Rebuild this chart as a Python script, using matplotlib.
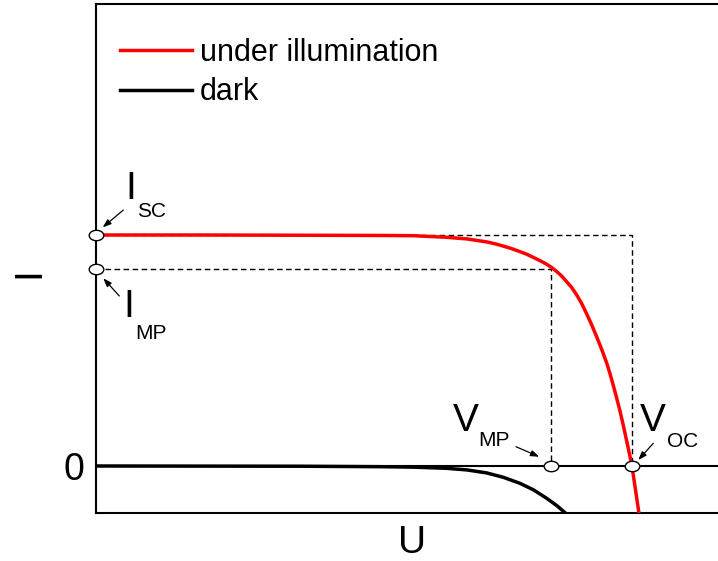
import numpy as np
import matplotlib.pyplot as plt
from matplotlib.path import Path
from matplotlib.lines import Line2D

plt.rcParams['font.family'] = ['Liberation Sans', 'DejaVu Sans']

# I-U kennlinie einer solarzelle (normiert: I_SC = 1, V_OC = 1)
u_light = [0.0, 0.194, 0.381, 0.530, 0.592, 0.654, 0.692, 0.729, 0.7445, 0.760,
           0.7755, 0.791, 0.8035, 0.816, 0.8285, 0.841, 0.8505, 0.860, 0.869, 0.878,
           0.8875, 0.897, 0.906, 0.915, 0.9245, 0.934, 0.9435, 0.953, 0.959, 0.965,
           0.9715, 0.978, 0.984, 0.990, 0.995, 1.000, 1.013]
i_light = [1.000, 1.000, 0.999, 0.998, 0.997, 0.990, 0.983, 0.970, 0.962, 0.952,
           0.941, 0.928, 0.917, 0.903, 0.889, 0.873, 0.859, 0.841, 0.822, 0.798,
           0.773, 0.740, 0.704, 0.661, 0.613, 0.560, 0.505, 0.445, 0.400, 0.350,
           0.294, 0.235, 0.174, 0.110, 0.056, 0.0, -0.2035]

u_dark = [0.0, 0.381, 0.530, 0.592, 0.654, 0.692, 0.729, 0.760, 0.791, 0.816,
          0.841, 0.860, 0.876]
i_dark = [0.0, -0.001, -0.003, -0.005, -0.010, -0.017, -0.030, -0.049, -0.075,
          -0.103, -0.140, -0.172, -0.204]

i_sc = 1.0
v_oc = 1.0
i_mp = 0.853
v_mp = 0.849

# ovaler marker
circ = Path.unit_circle()
oval = Path(circ.vertices * [1.4, 1.0], circ.codes)

fig = plt.figure(figsize=(7.18, 5.61), dpi=100)
ax = fig.add_axes([96 / 718, 48 / 561, 626 / 718, 509 / 561])
ax.set_xlim(0, 1.168)
ax.set_ylim(-0.2035, 2.0)

for s in ax.spines.values():
    s.set_linewidth(1.5)
ax.spines['right'].set_visible(False)

ax.axhline(0, color='black', lw=1.5, zorder=1)

# gestrichelte hilfslinien
ax.plot([0, v_oc, v_oc], [i_sc, i_sc, 0], color='black', lw=1, ls=(0, (4, 2.5)), zorder=2)
ax.plot([0, v_mp, v_mp], [i_mp, i_mp, 0], color='black', lw=1, ls=(0, (4, 2.5)), zorder=2)

ax.plot(u_light, i_light, color='#ff0000', lw=2.5, zorder=3)
ax.plot(u_dark, i_dark, color='black', lw=2.5, zorder=3)

ax.plot([0, 0, v_mp, v_oc], [i_sc, i_mp, 0, 0], ls='none', marker=oval, ms=10.5,
        mfc='white', mec='black', mew=1, zorder=5, clip_on=False)

big = 28
small = 15
ax.text(0.0549, 1.156, 'I', fontsize=big, va='baseline')
ax.text(0.0765, 1.078, 'SC', fontsize=small, va='baseline')
ax.text(0.0511, 0.645, 'I', fontsize=big, va='baseline')
ax.text(0.0735, 0.550, 'MP', fontsize=small, va='baseline')
ax.text(0.666, 0.1515, 'V', fontsize=big, va='baseline')
ax.text(0.7134, 0.0866, 'MP', fontsize=small, va='baseline')
ax.text(1.015, 0.1515, 'V', fontsize=big, va='baseline')
ax.text(1.0653, 0.0823, 'OC', fontsize=small, va='baseline')

arrow = dict(arrowstyle='-|>,head_length=0.5,head_width=0.18', color='black', lw=0.9,
             shrinkA=0, shrinkB=0)
ax.annotate('', xy=(0.0125, 1.033), xytext=(0.0509, 1.108), arrowprops=arrow)
ax.annotate('', xy=(0.0136, 0.8126), xytext=(0.0435, 0.736), arrowprops=arrow)
ax.annotate('', xy=(0.827, 0.040), xytext=(0.7836, 0.0835), arrowprops=arrow)
ax.annotate('', xy=(1.0118, 0.026), xytext=(1.0397, 0.098), arrowprops=arrow)

ax.set_xticks([])
ax.set_yticks([0])
ax.tick_params(axis='y', length=0, pad=8.5, labelsize=27)

ax.set_xlabel('U', fontsize=28, va='baseline')
ax.xaxis.set_label_coords((412 - 96) / 626, (513 - 553) / 509)
ax.set_ylabel('I', fontsize=28, va='baseline')
ax.yaxis.set_label_coords((39 - 96) / 626, (513 - 272.7) / 509)

handles = [Line2D([], [], color='#ff0000', lw=2.5), Line2D([], [], color='black', lw=2.5)]
ax.legend(handles, ['under illumination', 'dark'], loc='upper left',
          bbox_to_anchor=(0.0383, 0.934), borderaxespad=0, borderpad=0,
          frameon=False, fontsize=22, handlelength=2.35, handletextpad=0.26,
          labelspacing=0.32)

fig.savefig('out.png', dpi=100)
